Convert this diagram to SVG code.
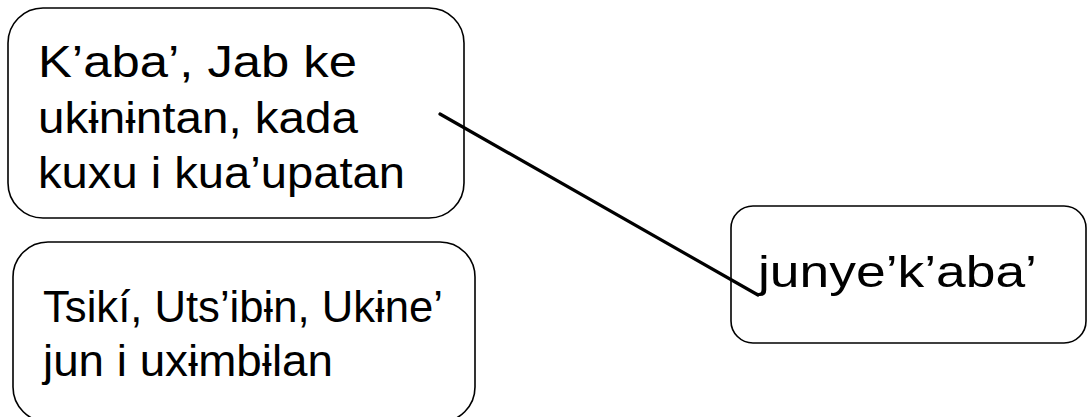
<svg xmlns="http://www.w3.org/2000/svg" width="1087" height="417" viewBox="0 0 1087 417">
<style>
.box{fill:#fff;stroke:#000;stroke-width:1.6}
.t{font-family:"Liberation Sans","DejaVu Sans",sans-serif;font-size:44px;fill:#000}
.conn{stroke:#000;stroke-width:3.2;fill:none;stroke-linecap:round}
</style>
<rect width="1087" height="417" fill="#fff"/>
<g id="node1">
<rect class="box" x="8" y="8" width="456" height="210" rx="35" ry="35"/>
<text class="t" x="38" y="77" textLength="319" lengthAdjust="spacingAndGlyphs">K’aba’, Jab ke</text>
<text class="t" x="38" y="133" textLength="320" lengthAdjust="spacingAndGlyphs">ukɨnɨntan, kada</text>
<text class="t" x="38" y="188" textLength="367" lengthAdjust="spacingAndGlyphs">kuxu i kua’upatan</text>
</g>
<g id="node2">
<rect class="box" x="13" y="242" width="462" height="180" rx="35" ry="35"/>
<text class="t" x="43" y="322" textLength="400" lengthAdjust="spacingAndGlyphs">Tsikí, Uts’ibɨn, Ukɨne’</text>
<text class="t" x="43" y="376" textLength="290" lengthAdjust="spacingAndGlyphs">jun i uxɨmbɨlan</text>
</g>
<g id="node3">
<rect class="box" x="731" y="206" width="355" height="137" rx="22" ry="22"/>
<text class="t" x="758" y="287" textLength="279" lengthAdjust="spacingAndGlyphs">junye’k’aba’</text>
</g>
<g id="connectors">
<line class="conn" x1="440" y1="114" x2="758" y2="295"/>
</g>
</svg>
